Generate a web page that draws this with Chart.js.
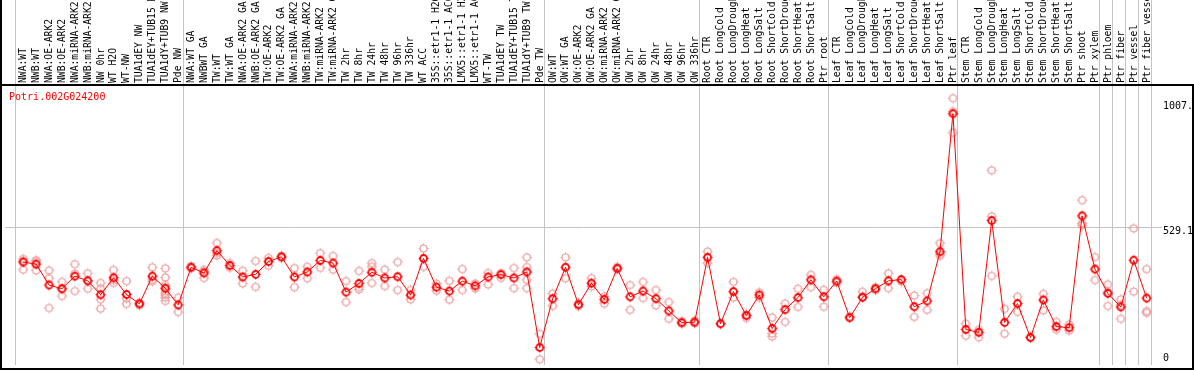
<!DOCTYPE html>
<html>
<head>
<meta charset="utf-8">
<script src="https://cdn.jsdelivr.net/npm/chart.js"></script>
<style>
  body { margin: 0; background: #fff; }
  #wrap { width: 1194px; height: 370px; }
</style>
</head>
<body>
<div id="wrap"><canvas id="myChart" width="1194" height="370"></canvas></div>
<script>
// gene shown
let geneName = "Potri.002G024200";

// sample labels, in plot order
let sampleLabels = [
  "NWA:WT", "NWB:WT", "NWA:OE-ARK2", "NWB:OE-ARK2", "NWA:miRNA-ARK2", "NWB:miRNA-ARK2",
  "NW 0hr", "WT H2O", "WT-NW", "TUA1dEY NW", "TUA1dEY+TUB15 NW", "TUA1dY+TUB9 NW", "Pde NW",
  "NWA:WT GA", "NWBWT GA", "TW:WT", "TW:WT GA", "NWA:OE-ARK2 GA", "NWB:OE-ARK2 GA",
  "TW:OE-ARK2", "TW:OE-ARK2 GA", "NWA:miRNA-ARK2 GA", "NWB:miRNA-ARK2 GA", "TW:miRNA-ARK2",
  "TW:miRNA-ARK2 GA", "TW 2hr", "TW 8hr", "TW 24hr", "TW 48hr", "TW 96hr", "TW 336hr", "WT ACC",
  "35S::etr1-1 H2O", "35S::etr1-1 ACC", "LMX5::etr1-1 H2O", "LMX5::etr1-1 ACC", "WT-TW",
  "TUA1dEY TW", "TUA1dEY+TUB15 TW", "TUA1dY+TUB9 TW", "Pde TW",
  "OW:WT", "OW:WT GA", "OW:OE-ARK2", "OW:OE-ARK2 GA", "OW:miRNA-ARK2", "OW:miRNA-ARK2 GA",
  "OW 2hr", "OW 8hr", "OW 24hr", "OW 48hr", "OW 96hr", "OW 336hr",
  "Root CTR", "Root LongCold", "Root LongDrought", "Root LongHeat", "Root LongSalt",
  "Root ShortCold", "Root ShortDrought", "Root ShortHeat", "Root ShortSalt", "Ptr root",
  "Leaf CTR", "Leaf LongCold", "Leaf LongDrought", "Leaf LongHeat", "Leaf LongSalt",
  "Leaf ShortCold", "Leaf ShortDrought", "Leaf ShortHeat", "Leaf ShortSalt", "Ptr leaf",
  "Stem CTR", "Stem LongCold", "Stem LongDrought", "Stem LongHeat", "Stem LongSalt",
  "Stem ShortCold", "Stem ShortDrought", "Stem ShortHeat", "Stem ShortSalt", "Ptr shoot", "Ptr xylem",
  "Ptr phloem", "Ptr fiber", "Ptr vessel", "Ptr fiber vessel"
];

// how many samples in each separated block
let groupSizes = [13, 28, 12, 10, 10, 11, 1, 1, 1, 1];

// mean expression per sample
let meanValues = [
  394, 386, 306, 292, 340, 322, 269, 334, 270, 234, 340, 294, 230,
  374, 352, 438, 381, 337, 347, 396, 414, 337, 356, 400, 390, 279, 312, 355, 333, 338, 268, 408,
  298, 283, 321, 303, 337, 346, 333, 356, 67,
  254, 374, 231, 313, 251, 370, 261, 283, 254, 207, 162, 164,
  412, 158, 281, 189, 268, 140, 212, 258, 326, 261,
  321, 181, 259, 292, 322, 327, 223, 245, 434, 962,
  136, 125, 553, 163, 235, 105, 249, 147, 143, 571, 367,
  274, 222, 401, 256
];

// replicate values per sample
let replicateValues = [
  [406, 398, 365], [401, 395, 362], [362, 332, 218], [318, 292, 264], [386, 350, 283], [351, 322, 292],
  [314, 293, 251, 216], [364, 325, 314], [321, 255, 234], [239, 229], [374, 326, 321],
  [370, 335, 306, 290, 276, 268, 258, 245], [258, 203],
  [378, 370], [364, 358, 333], [467, 428, 419], [390, 372], [361, 312], [398, 299], [410, 380],
  [418, 410], [371, 298], [376, 332], [428, 372], [417, 365], [321, 241], [360, 298, 289],
  [390, 376, 314], [365, 302], [394, 287], [287, 251], [446, 376], [311, 285], [322, 250],
  [367, 287], [312, 293], [352, 308], [352, 333], [371, 294], [412, 375, 326, 294], [119, 22],
  [273, 226], [412, 332], [237, 225], [332, 300], [262, 235], [375, 365], [306, 211], [318, 256],
  [287, 228], [241, 177], [168, 158], [170, 160],
  [434, 390], [158], [318, 258], [195, 180], [278, 258], [182, 121, 109], [235, 165], [292, 222],
  [345, 298], [288, 223],
  [328, 315], [186], [280, 262], [298, 287], [351, 294], [320], [266, 184], [275, 211],
  [466, 425, 418], [1021, 971, 889],
  [158, 112], [135, 106], [745, 569, 341], [215, 120], [261, 203], [108], [272, 209], [165, 135],
  [155, 132], [631, 542, 535], [413, 325],
  [309, 280, 226], [251, 230, 177], [523, 281], [367, 206, 200]
];

// right-hand value labels and the grid line
let yTickValues = [0, 529.1, 1007.6];
let yGridValues = [529.1];
let yMax = 1071.7;

let meanPoints = [];
for (let i = 0; i < meanValues.length; i++) {
  meanPoints.push({ x: i, y: meanValues[i] });
}
let repPoints = [];
for (let i = 0; i < replicateValues.length; i++) {
  for (let j = 0; j < replicateValues[i].length; j++) {
    repPoints.push({ x: i, y: replicateValues[i][j] });
  }
}

function makeMarker(color, lw) {
  let c = document.createElement('canvas');
  c.width = 13;
  c.height = 13;
  let g = c.getContext('2d');
  g.strokeStyle = color;
  g.lineWidth = lw;
  g.beginPath();
  g.arc(6.5, 6.5, 3.5, 0, Math.PI * 2);
  g.stroke();
  g.lineWidth = 1;
  g.beginPath();
  g.moveTo(6.5, 1.5); g.lineTo(6.5, 3);
  g.moveTo(6.5, 10); g.lineTo(6.5, 11.5);
  g.moveTo(1.5, 6.5); g.lineTo(3, 6.5);
  g.moveTo(10, 6.5); g.lineTo(11.5, 6.5);
  g.stroke();
  return c;
}

let meanMarker = makeMarker('#ff0000', 1.8);
let repMarker = makeMarker('#eb9a9a', 1.2);

let monoFont = '"DejaVu Sans Mono", "Liberation Mono", monospace';

// narrow mono text: 11px glyphs squeezed to ~6px advance
function squeezedText(ctx, text, x, y, sx) {
  ctx.save();
  ctx.translate(x, y);
  ctx.scale(sx, 1);
  ctx.fillText(text, 0, 0);
  ctx.restore();
}

let decorPlugin = {
  id: 'decor',
  beforeDatasetsDraw(chart) {
    let ctx = chart.ctx;
    let xs = chart.scales.x;
    let ys = chart.scales.y;
    let area = chart.chartArea;
    ctx.save();
    ctx.strokeStyle = '#c4c4c4';
    ctx.lineWidth = 1;
    // block separators, full height
    let pos = 0;
    let bounds = [0];
    for (let k = 0; k < groupSizes.length; k++) {
      pos += groupSizes[k];
      bounds.push(pos);
    }
    for (let k = 0; k < bounds.length; k++) {
      let x = Math.round(xs.getPixelForValue(bounds[k] - 0.66)) + 0.5;
      ctx.beginPath();
      ctx.moveTo(x, 0);
      ctx.lineTo(x, area.bottom);
      ctx.stroke();
    }
    // horizontal grid
    for (let k = 0; k < yGridValues.length; k++) {
      let y = Math.round(ys.getPixelForValue(yGridValues[k])) + 0.5;
      ctx.beginPath();
      ctx.moveTo(area.left, y);
      ctx.lineTo(1162, y);
      ctx.stroke();
    }
    ctx.restore();
  },
  afterDraw(chart) {
    let ctx = chart.ctx;
    let xs = chart.scales.x;
    let ys = chart.scales.y;
    let area = chart.chartArea;
    ctx.save();
    // sample labels, vertical
    ctx.fillStyle = '#000';
    ctx.font = '11px ' + monoFont;
    ctx.textAlign = 'left';
    ctx.textBaseline = 'middle';
    for (let i = 0; i < sampleLabels.length; i++) {
      let x = xs.getPixelForValue(i);
      ctx.save();
      ctx.translate(x, 83);
      ctx.rotate(-Math.PI / 2);
      ctx.scale(0.88, 1);
      ctx.fillText(sampleLabels[i], 0, 0);
      ctx.restore();
    }
    // frame
    ctx.strokeStyle = '#000';
    ctx.lineWidth = 2;
    ctx.beginPath();
    ctx.moveTo(0, area.top);
    ctx.lineTo(1194, area.top);
    ctx.moveTo(1, 0);
    ctx.lineTo(1, 370);
    ctx.moveTo(1193, area.top);
    ctx.lineTo(1193, 370);
    ctx.moveTo(0, 369);
    ctx.lineTo(1194, 369);
    ctx.stroke();
    // gene name
    ctx.fillStyle = '#ff0000';
    ctx.font = '11px ' + monoFont;
    ctx.textBaseline = 'middle';
    squeezedText(ctx, geneName, 9, 97, 0.91);
    // value labels on the right
    ctx.fillStyle = '#000';
    ctx.textBaseline = 'top';
    for (let k = 0; k < yTickValues.length; k++) {
      let y = ys.getPixelForValue(yTickValues[k]) - 1;
      if (y > area.bottom - 12) y = area.bottom - 12;
      squeezedText(ctx, String(yTickValues[k]), 1163, y, 0.91);
    }
    ctx.restore();
  }
};

var ctx = document.getElementById('myChart').getContext('2d');
var myChart = new Chart(ctx, {
  type: 'line',
  data: {
    datasets: [{
      label: 'mean',
      data: meanPoints,
      borderColor: '#ff0000',
      borderWidth: 1,
      pointStyle: meanMarker,
      pointRadius: 4,
      pointHoverRadius: 4,
      tension: 0,
      order: 0
    },
    {
      label: 'replicates',
      data: repPoints,
      showLine: false,
      pointStyle: repMarker,
      pointRadius: 4,
      pointHoverRadius: 4,
      order: 1
    }]
  },
  options: {
    responsive: false,
    animation: false,
    events: [],
    layout: { padding: { top: 85, bottom: 1, left: 1, right: 1 } },
    plugins: { legend: { display: false }, tooltip: { enabled: false } },
    scales: {
      x: { type: 'linear', display: false, min: -1.41, max: 90.28 },
      y: { type: 'linear', display: false, min: 0, max: yMax }
    }
  },
  plugins: [decorPlugin]
});
</script>
</body>
</html>
